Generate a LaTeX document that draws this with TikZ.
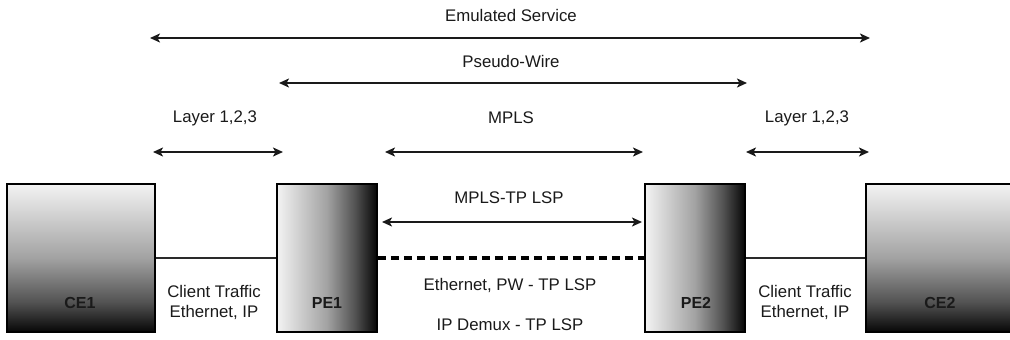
\documentclass[tikz,border=0pt]{standalone}
\usepackage{fontspec}
\setmainfont{Liberation Sans}
\usetikzlibrary{arrows.meta}
\definecolor{ink}{HTML}{1A1A1A}
\definecolor{wire}{HTML}{2A2A2A}
\definecolor{shadeHi}{HTML}{F3F3F3}
\definecolor{shadeMid}{HTML}{A2A2A2}
\definecolor{shadeLow}{HTML}{525252}
\definecolor{shadeEnd}{HTML}{060606}
% device fills: light at top/left, darkening towards bottom/right
\pgfdeclareverticalshading{ceshade}{100bp}{color(0bp)=(shadeEnd); color(25bp)=(shadeEnd);
  color(35bp)=(shadeLow); color(50bp)=(shadeMid); color(75bp)=(shadeHi); color(100bp)=(shadeHi)}
\pgfdeclarehorizontalshading{peshade}{100bp}{color(0bp)=(shadeHi); color(25bp)=(shadeHi);
  color(50bp)=(shadeMid); color(64bp)=(shadeLow); color(75bp)=(shadeEnd); color(100bp)=(shadeEnd)}
\tikzset{
  every node/.style={inner sep=0pt, text=ink, font=\fontsize{16.8}{20}\selectfont},
  cebox/.style={draw=black, line width=1.6pt, minimum width=148pt, minimum height=148pt,
                shading=ceshade},
  pebox/.style={draw=black, line width=1.6pt, minimum width=100pt, minimum height=148pt,
                shading=peshade},
  boxlbl/.style={font=\fontsize{16}{19}\selectfont\bfseries, text=ink},
  span/.style={draw=ink, line width=1.8pt,
               {Stealth[length=10pt,width=9pt,inset=2.5pt]}-{Stealth[length=10pt,width=9pt,inset=2.5pt]}},
  link/.style={draw=wire, line width=1.6pt},
  tunnel/.style={draw=black, line width=3.6pt, dash pattern=on 8pt off 5pt},
}
\begin{document}
\begin{tikzpicture}[x=1pt, y=-1pt]
\useasboundingbox (0,0) rectangle (1010,340);

% equipment
\node[cebox] (ce1) at (81,258) {};
\node[pebox] (pe1) at (327,258) {};
\node[pebox] (pe2) at (695,258) {};
\node[cebox] (ce2) at (940,258) {};

\node[boxlbl] (ce1l) at (80,303) {CE1};
\node[boxlbl] (pe1l) at (327,303) {PE1};
\node[boxlbl] (pe2l) at (696,303) {PE2};
\node[boxlbl] (ce2l) at (940,303) {CE2};

% access links and the transport tunnel
\draw[link] (ce1.east) -- (pe1.west);
\draw[link] (pe2.east) -- (ce2.west);
\draw[tunnel] (pe1.east) -- (pe2.west);

% extent markers
\coordinate (es-a) at (150,38);  \coordinate (es-b) at (870,38);
\coordinate (pw-a) at (279,83);  \coordinate (pw-b) at (747,83);
\coordinate (l1-a) at (153,152); \coordinate (l1-b) at (283,152);
\coordinate (mp-a) at (385,152); \coordinate (mp-b) at (643,152);
\coordinate (l2-a) at (746,152); \coordinate (l2-b) at (869,152);
\coordinate (tp-a) at (382,222); \coordinate (tp-b) at (642,222);

\draw[span] (es-a) -- (es-b);
\draw[span] (pw-a) -- (pw-b);
\draw[span] (l1-a) -- (l1-b);
\draw[span] (mp-a) -- (mp-b);
\draw[span] (l2-a) -- (l2-b);
\draw[span] (tp-a) -- (tp-b);

% labels
\node (t-es) at (511,15) {Emulated Service};
\node (t-pw) at (511,61) {Pseudo-Wire};
\node (t-l1) at (215,118) {Layer 1,2,3};
\node (t-mp) at (511,118) {MPLS};
\node (t-l2) at (807,118) {Layer 1,2,3};
\node (t-tp) at (509,198) {MPLS-TP LSP};
\node (t-eth) at (510,285) {Ethernet, PW - TP LSP};
\node (t-ip) at (510,325) {IP Demux - TP LSP};
\node[align=center] (t-c1) at (214,302) {Client Traffic\\Ethernet, IP};
\node[align=center] (t-c2) at (805,302) {Client Traffic\\Ethernet, IP};
\end{tikzpicture}
\end{document}
